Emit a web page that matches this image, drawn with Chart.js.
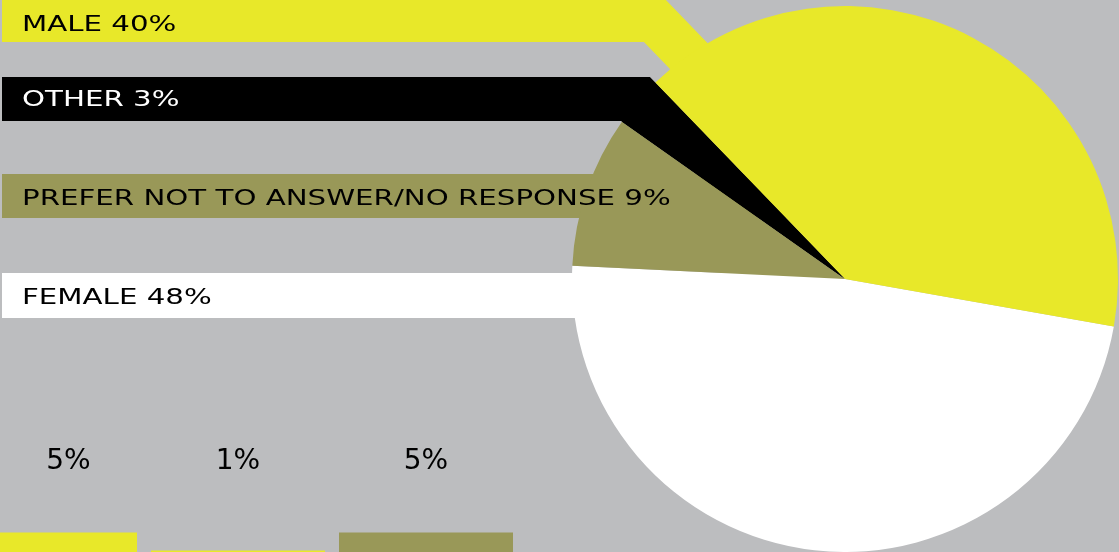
<!DOCTYPE html>
<html>
<head>
<meta charset="utf-8">
<script src="https://cdn.jsdelivr.net/npm/chart.js@4.4.1/dist/chart.umd.min.js"></script>
<style>
  html, body { margin: 0; padding: 0; overflow: hidden; background: #bcbdbf; }
  #scene { position: relative; width: 1119px; height: 552px; overflow: hidden; }
  #pie { position: absolute; left: 0; top: 0; }
  #bars { position: absolute; left: -44px; top: 400px; }
</style>
</head>
<body>
<div id="scene">
  <canvas id="pie" width="1119" height="552"></canvas>
  <canvas id="bars" width="564" height="155"></canvas>
</div>
<script>
const couleurs = {
  jaune: '#e8e829',
  olive: '#999858',
  noir: '#000000',
  blanc: '#ffffff',
};

// pie, drawn clockwise from the right
const categories = ['FEMALE', 'PREFER NOT TO ANSWER/NO RESPONSE', 'OTHER', 'MALE'];
const shares = [48, 9, 3, 40];

// small bars at the bottom left
const barLabels = ['5%', '1%', '5%'];
const barValues = [5, 1, 5];

const sliceColors = [couleurs.blanc, couleurs.olive, couleurs.noir, couleurs.jaune];
const barColors = [couleurs.jaune, couleurs.jaune, couleurs.olive];

// label bands on the left
const bandTops = [273, 174, 77, 0];
const bandBottoms = [318, 218, 121, 42];
const labelBaselines = [304, 205, 106, 31];
const labelColors = [couleurs.noir, couleurs.noir, couleurs.blanc, couleurs.noir];
const connectors = ['rect', 'rect', 'wedge', 'strip'];

const BAND_LEFT = 2;

// point on the ray at `angle` from the pie centre, pushed sideways by `shift`
const pointOnRay = (arc, angle, shift, t) => ({
  x: arc.x - shift * Math.sin(angle) + t * Math.cos(angle),
  y: arc.y + shift * Math.cos(angle) + t * Math.sin(angle),
});
const rayAtY = (arc, angle, shift, y) => {
  const t = (y - (arc.y + shift * Math.cos(angle))) / Math.sin(angle);
  return pointOnRay(arc, angle, shift, t);
};

const polygon = (ctx, points, color) => {
  ctx.fillStyle = color;
  ctx.beginPath();
  points.forEach((p, i) => (i ? ctx.lineTo(p.x, p.y) : ctx.moveTo(p.x, p.y)));
  ctx.closePath();
  ctx.fill();
};

const bandesPlugin = {
  id: 'bandes',
  beforeDatasetsDraw(chart) {
    const { ctx } = chart;
    const arcs = chart.getDatasetMeta(0).data;
    ctx.save();
    arcs.forEach((arc, i) => {
      const top = bandTops[i];
      const bottom = bandBottoms[i];
      const color = sliceColors[i];
      if (connectors[i] === 'rect') {
        ctx.fillStyle = color;
        ctx.fillRect(BAND_LEFT, top, arc.x - BAND_LEFT, bottom - top);
      } else if (connectors[i] === 'wedge') {
        polygon(ctx, [
          { x: BAND_LEFT, y: top },
          rayAtY(arc, arc.endAngle, 0, top),
          { x: arc.x, y: arc.y },
          rayAtY(arc, arc.startAngle, 0, bottom),
          { x: BAND_LEFT, y: bottom },
        ], color);
      } else {
        const a = arc.startAngle;
        const outer = rayAtY(arc, a, 65, top);
        const inner = rayAtY(arc, a, 20, bottom);
        polygon(ctx, [
          { x: BAND_LEFT, y: top },
          outer,
          pointOnRay(arc, a, 65, 150),
          pointOnRay(arc, a, 20, 150),
          inner,
          { x: BAND_LEFT, y: bottom },
        ], color);
      }
    });
    ctx.restore();
  },
  afterDatasetsDraw(chart) {
    const { ctx } = chart;
    ctx.save();
    ctx.font = '22px "DejaVu Sans"';
    ctx.textBaseline = 'alphabetic';
    categories.forEach((nom, i) => {
      ctx.save();
      ctx.translate(22, labelBaselines[i]);
      ctx.scale(1.33, 1);
      ctx.fillStyle = labelColors[i];
      ctx.fillText(`${nom} ${shares[i]}%`, 0, 0);
      ctx.restore();
    });
    ctx.restore();
  },
};

/* eslint-disable no-new */
new Chart(document.getElementById('pie'), {
  type: 'pie',
  data: {
    labels: categories,
    datasets: [{
      data: shares,
      backgroundColor: sliceColors,
      borderWidth: 0,
      hoverOffset: 0,
    }],
  },
  options: {
    responsive: false,
    animation: false,
    rotation: 100,
    layout: { padding: { left: 572, right: 1, top: 6, bottom: 0 } },
    plugins: { legend: { display: false }, tooltip: { enabled: false } },
  },
  plugins: [bandesPlugin],
});

const etiquettesBarres = {
  id: 'etiquettesBarres',
  afterDatasetsDraw(chart) {
    const { ctx } = chart;
    const decalage = -chart.canvas.offsetLeft;
    ctx.save();
    ctx.font = '28px "DejaVu Sans"';
    ctx.fillStyle = couleurs.noir;
    ctx.textAlign = 'center';
    ctx.textBaseline = 'alphabetic';
    chart.getDatasetMeta(0).data.forEach((bar, i) => {
      const gauche = Math.max(bar.x - bar.width / 2, decalage);
      const droite = bar.x + bar.width / 2;
      ctx.fillText(barLabels[i], (gauche + droite) / 2, 69);
    });
    ctx.restore();
  },
};

new Chart(document.getElementById('bars'), {
  type: 'bar',
  data: {
    labels: barLabels,
    datasets: [{
      data: barValues,
      backgroundColor: barColors,
      borderWidth: 0,
      barPercentage: 174 / 188,
      categoryPercentage: 1,
    }],
  },
  options: {
    responsive: false,
    animation: false,
    layout: { padding: 0 },
    scales: {
      x: { display: false },
      y: { display: false, min: 0, max: 34.4 },
    },
    plugins: { legend: { display: false }, tooltip: { enabled: false } },
  },
  plugins: [etiquettesBarres],
});
/* eslint-enable no-new */
</script>
</body>
</html>
